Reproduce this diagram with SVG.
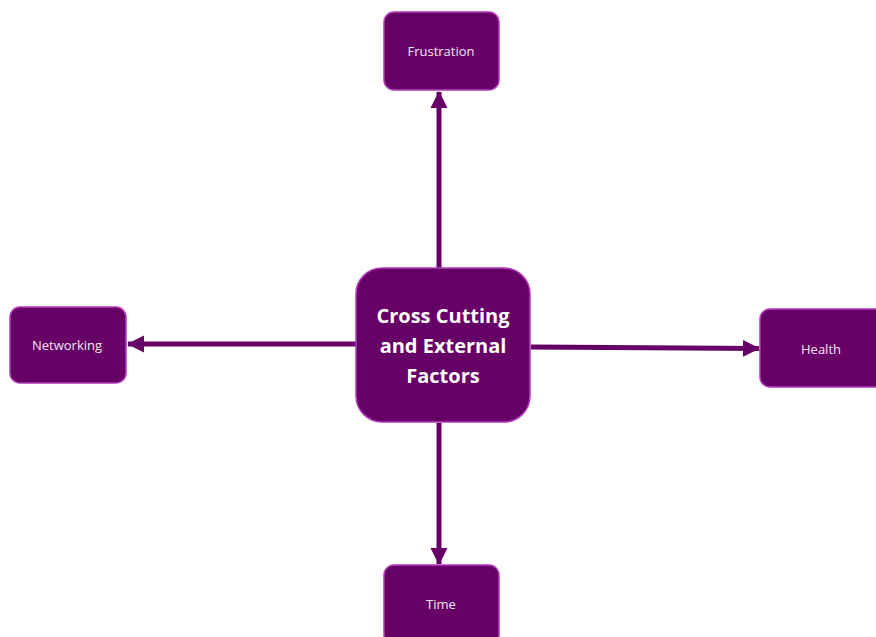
<svg xmlns="http://www.w3.org/2000/svg" width="876" height="637" viewBox="0 0 876 637">
  <style>
    .box { fill: #660066; stroke: #b13cb8; stroke-width: 1.5; }
    .lbl { fill: #f3e6f3; font-family: "Open Sans", "Liberation Sans", sans-serif; font-size: 13px; text-anchor: middle; }
    .main { fill: #ffffff; font-family: "Open Sans", "Liberation Sans", sans-serif; font-size: 20px; font-weight: bold; text-anchor: middle; }
    .link { stroke: #660066; stroke-width: 5; fill: none; marker-end: url(#head); }
  </style>
  <defs>
    <marker id="head" markerWidth="4" markerHeight="4" refX="3.2" refY="2" orient="auto" markerUnits="strokeWidth">
      <path d="M0,0.3 L3.4,2 L0,3.7 Z" fill="#660066"/>
    </marker>
  </defs>
  <rect width="876" height="637" fill="#ffffff"/>
  <g id="connectors">
    <line class="link" x1="439" y1="268" x2="439" y2="92"/>
    <line class="link" x1="356" y1="344" x2="128" y2="344"/>
    <line class="link" x1="531" y1="347" x2="759" y2="348.5"/>
    <line class="link" x1="439" y1="423" x2="439" y2="564"/>
  </g>
  <g id="center">
    <rect class="box" x="356" y="268" width="174" height="154" rx="26"/>
    <text class="main" x="443" y="323">Cross Cutting</text>
    <text class="main" x="443" y="353">and External</text>
    <text class="main" x="443" y="383">Factors</text>
  </g>
  <g id="frustration">
    <rect class="box" x="384" y="12" width="115" height="78" rx="10"/>
    <text class="lbl" x="441" y="56">Frustration</text>
  </g>
  <g id="networking">
    <rect class="box" x="10" y="307" width="116" height="76" rx="10"/>
    <text class="lbl" x="67" y="350">Networking</text>
  </g>
  <g id="health">
    <rect class="box" x="760" y="309" width="125" height="78" rx="10"/>
    <text class="lbl" x="821" y="354">Health</text>
  </g>
  <g id="time">
    <rect class="box" x="384" y="565" width="115" height="80" rx="10"/>
    <text class="lbl" x="441" y="609">Time</text>
  </g>
</svg>
